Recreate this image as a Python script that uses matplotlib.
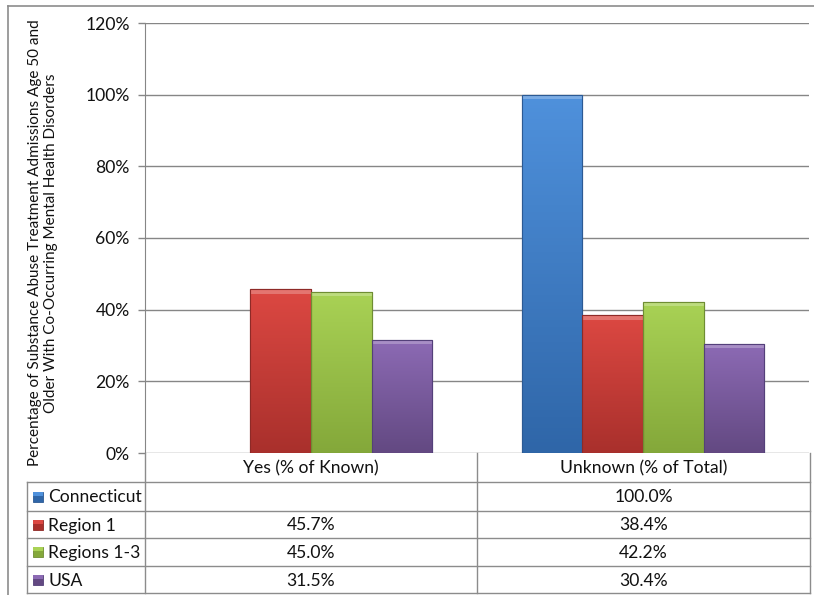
import numpy as np
import matplotlib
matplotlib.use("Agg")
import matplotlib.pyplot as plt
from matplotlib.colors import LinearSegmentedColormap
from matplotlib.patches import Rectangle

plt.rcParams['font.family'] = ['Lato', 'DejaVu Sans']

categories = ["Yes (% of Known)", "Unknown (% of Total)"]
series = ["Connecticut", "Region 1", "Regions 1-3", "USA"]
connecticut = [np.nan, 100.0]
region1 = [45.7, 38.4]
regions13 = [45.0, 42.2]
usa = [31.5, 30.4]
yticks = [0, 20, 40, 60, 80, 100, 120]
ylabel = ("Percentage of Substance Abuse Treatment Admissions Age 50 and\n"
          "Older With Co-Occurring Mental Health Disorders")

values = [connecticut, region1, regions13, usa]
# (top colour, bottom colour)
colors = [("#4f91dc", "#2f66a8"), ("#dc4842", "#a9302c"),
          ("#a9d255", "#84a83a"), ("#8c6ab4", "#634982")]
edge = ["#2c5a94", "#8e2a27", "#6f8d33", "#54407a"]
txt = "#111111"
FS = 12.6

W, H = 814, 595
fig = plt.figure(figsize=(W / 100, H / 100), dpi=100)
fig.patch.set_facecolor("white")

x0, x1, ytop, ybot = 145, 809, 23, 453
ax = fig.add_axes([x0 / W, 1 - ybot / H, (x1 - x0) / W, (ybot - ytop) / H])
ax.set_xlim(-0.5, 1.5)
ax.set_ylim(0, 120)
ax.set_yticks(yticks)
ax.set_yticklabels([f"{t}%" for t in yticks], fontsize=FS, color=txt)
ax.tick_params(axis="y", length=5, width=1, color="#868686", pad=6)
ax.set_xticks([])
for s in ["top", "right", "bottom"]:
    ax.spines[s].set_visible(False)
ax.spines["left"].set_color("#868686")
ax.grid(axis="y", color="#868686", linewidth=1)
ax.set_axisbelow(True)

bw = 0.1825
xs = np.arange(len(categories))
for i, (vals, (ctop, cbot), ec) in enumerate(zip(values, colors, edge)):
    off = (i - 1.5) * bw
    bars = ax.bar(xs + off, np.nan_to_num(vals), width=bw, color=cbot,
                  edgecolor=ec, linewidth=0.8, zorder=2)
    cmap = LinearSegmentedColormap.from_list("g", [cbot, ctop])
    grad = np.linspace(0, 1, 100).reshape(-1, 1)
    for b, v in zip(bars, vals):
        if np.isnan(v):
            b.set_visible(False)
            continue
        bx, by = b.get_x(), b.get_y()
        bwid, bh = b.get_width(), b.get_height()
        im = ax.imshow(grad, cmap=cmap, origin="lower", aspect="auto",
                       extent=[bx, bx + bwid, by, by + bh], zorder=2.5)
        im.set_clip_path(b)
        hl = 1.2
        ax.add_patch(Rectangle((bx, by + bh - hl), bwid, hl, facecolor="white",
                               alpha=0.25, edgecolor="none", zorder=2.7))
        ax.add_patch(Rectangle((bx, by), bwid, bh, facecolor="none",
                               edgecolor=ec, linewidth=0.8, zorder=2.8))
ax.set_xlim(-0.5, 1.5)
ax.set_ylim(0, 120)

fig.text(43 / W, 1 - 243 / H, ylabel, rotation=90, ha="center", va="center",
         fontsize=11, color=txt, linespacing=1.25)

# overlay for data table and frame
ov = fig.add_axes([0, 0, 1, 1], zorder=5)
ov.set_xlim(0, W)
ov.set_ylim(H, 0)
ov.axis("off")
ov.patch.set_alpha(0)

lc = "#8c8c8c"
ov.plot([8, 8], [6, H], color="#8c8c8c", lw=1.2)
ov.plot([8, W], [6, 6], color="#8c8c8c", lw=1.2)

col_x = [145, 477, 810]
row_y = [453, 482, 511, 538, 566, 593]
left_x = 27
for cx in col_x:
    ov.plot([cx, cx], [row_y[0], row_y[-1]], color=lc, lw=1)
ov.plot([left_x, left_x], [row_y[1], row_y[-1]], color=lc, lw=1)
for ry in row_y[1:]:
    ov.plot([left_x, col_x[-1]], [ry, ry], color=lc, lw=1)

for j, cat in enumerate(categories):
    cx = (col_x[j] + col_x[j + 1]) / 2
    ov.text(cx, (row_y[0] + row_y[1]) / 2 + 1, cat, ha="center", va="center",
            fontsize=FS, color=txt)

for i, (name, vals, (ctop, cbot), ec) in enumerate(zip(series, values, colors, edge)):
    cy = (row_y[i + 1] + row_y[i + 2]) / 2
    ov.add_patch(Rectangle((33, cy - 5), 10, 10, facecolor=cbot, edgecolor=ec, lw=0.6))
    ov.add_patch(Rectangle((33, cy - 5), 10, 4, facecolor=ctop, edgecolor="none"))
    ov.text(48, cy + 1, name, ha="left", va="center", fontsize=FS, color=txt)
    for j, v in enumerate(vals):
        if np.isnan(v):
            continue
        cx = (col_x[j] + col_x[j + 1]) / 2
        ov.text(cx, cy + 1, f"{v:.1f}%", ha="center", va="center",
                fontsize=FS, color=txt)

fig.savefig("out.png", dpi=100)
